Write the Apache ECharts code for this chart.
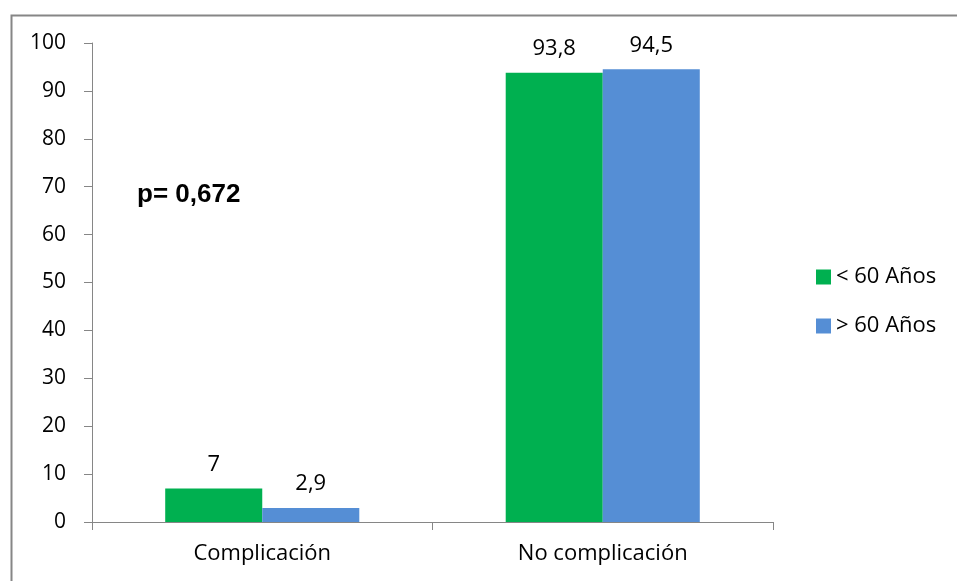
<!DOCTYPE html>
<html>
<head>
<meta charset="utf-8">
<script src="https://cdn.jsdelivr.net/npm/echarts@6/dist/echarts.min.js"></script>
<style>html,body{margin:0;padding:0;background:#fff}#c{width:957px;height:581px}</style>
</head>
<body>
<div id="c"></div>
<script>
const categories = ['Complicación', 'No complicación'];
const seriesNames = ['< 60 Años', '> 60 Años'];
const under60 = [7, 93.8];
const over60 = [2.9, 94.5];
const yTicks = [0, 100, 10];
const annotation = 'p= 0,672';

const fmt = v => String(v.value).replace('.', ',');
const chart = echarts.init(document.getElementById('c'), null, {renderer: 'canvas'});
const font = '"Open Sans", Lato, sans-serif';
const labelCommon = {show: true, position: 'top', distance: 13, color: '#000', fontSize: 22, fontFamily: font, formatter: fmt};
chart.setOption({
  animation: false,
  backgroundColor: '#fff',
  grid: {left: 92, right: 184, top: 43, bottom: 59},
  legend: {
    orient: 'vertical', left: 816, top: 266, padding: 0, itemWidth: 15, itemHeight: 15, itemGap: 27,
    icon: 'rect',
    textStyle: {fontSize: 22, fontFamily: font, color: '#000'},
    data: seriesNames
  },
  xAxis: {
    type: 'category', data: categories,
    axisLine: {lineStyle: {color: '#868686', width: 1}},
    axisTick: {show: true, length: 8, lineStyle: {color: '#868686'}},
    axisLabel: {color: '#000', fontSize: 22, fontFamily: font, margin: 21}
  },
  yAxis: {
    type: 'value', min: yTicks[0], max: yTicks[1], interval: yTicks[2],
    splitLine: {show: false},
    axisLine: {show: true, lineStyle: {color: '#868686', width: 1}},
    axisTick: {show: true, length: 8, lineStyle: {color: '#868686'}},
    axisLabel: {color: '#000', fontSize: 21, fontFamily: font, margin: 26}
  },
  series: [
    {name: seriesNames[0], type: 'bar', data: under60, barGap: '0%', barCategoryGap: '43%',
     itemStyle: {color: '#00B050'}, label: labelCommon},
    {name: seriesNames[1], type: 'bar', data: over60,
     itemStyle: {color: '#558ED5'}, label: labelCommon}
  ],
  graphic: [
    {type: 'rect', left: 9, top: 13, shape: {width: 980, height: 620}, silent: true,
     style: {fill: 'none', stroke: '#868686', lineWidth: 2}, z: -1},
    {type: 'text', left: 137, top: 182, silent: true,
     style: {text: annotation, font: 'bold 26px "Liberation Sans", Arial, sans-serif', fill: '#000'}}
  ]
});
</script>
</body>
</html>
